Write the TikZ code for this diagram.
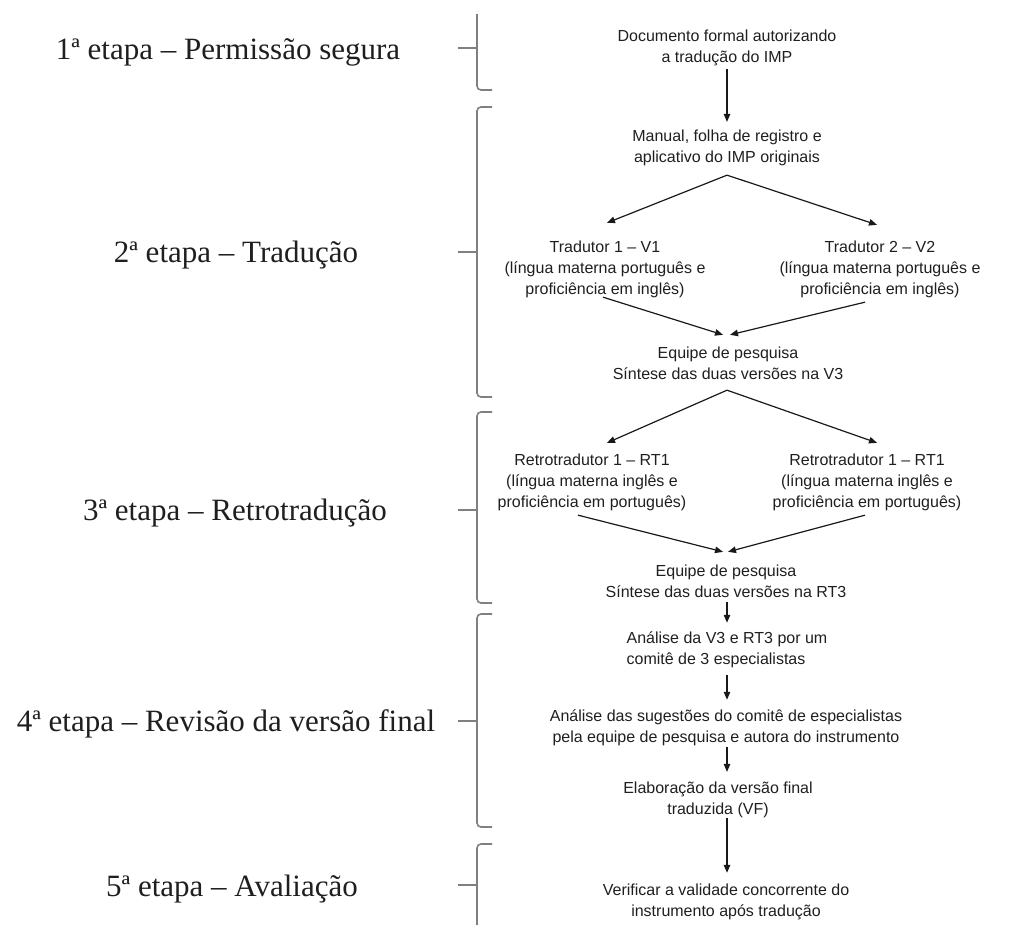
\documentclass[tikz,border=0pt]{standalone}
\usepackage{fontspec}
\setmainfont{Liberation Serif}
\setsansfont{Liberation Sans}
\usetikzlibrary{arrows.meta}
\begin{document}
\begin{tikzpicture}[x=1pt,y=-1pt,
  stage/.style={font=\fontsize{31}{36}\selectfont, text=black!88, inner sep=0pt},
  box/.style={font=\sffamily\fontsize{16}{21}\selectfont, align=center, inner sep=3pt, text=black!88},
  arr/.style={-{Triangle[length=8pt,width=6.5pt]}, line width=1.2pt, black!90},
  brk/.style={draw=black!50, line width=1.6pt, rounded corners=4pt}]
\useasboundingbox (0,0) rectangle (1016,924);

% stage labels
\node[stage] (s1) at (228,52) {1ª etapa – Permissão segura};
\node[stage] (s2) at (236,255) {2ª etapa – Tradução};
\node[stage] (s3) at (235,513) {3ª etapa – Retrotradução};
\node[stage] (s4) at (226,724) {4ª etapa – Revisão da versão final};
\node[stage] (s5) at (232,889) {5ª etapa – Avaliação};

% brackets
\draw[brk] (477,14) -- (477,90) -- (492,90);
\draw[brk] (458,48) -- (477,48);
\draw[brk] (492,107) -- (477,107) -- (477,397) -- (492,397);
\draw[brk] (458,252) -- (477,252);
\draw[brk] (492,412) -- (477,412) -- (477,603) -- (492,603);
\draw[brk] (458,510) -- (477,510);
\draw[brk] (492,614) -- (477,614) -- (477,827) -- (492,827);
\draw[brk] (458,721) -- (477,721);
\draw[brk] (492,844) -- (477,844) -- (477,930);
\draw[brk] (458,885) -- (477,885);

% flow nodes
\node[box] (n1) at (727,48) {Documento formal autorizando\\a tradução do IMP};
\node[box] (n2) at (727,148) {Manual, folha de registro e\\aplicativo do IMP originais};
\node[box] (t1) at (605,269) {Tradutor 1 – V1\\(língua materna português e\\proficiência em inglês)};
\node[box] (t2) at (880,269) {Tradutor 2 – V2\\(língua materna português e\\proficiência em inglês)};
\node[box] (e1) at (728,363) {Equipe de pesquisa\\Síntese das duas versões na V3};
\node[box] (r1) at (592,482) {Retrotradutor 1 – RT1\\(língua materna inglês e\\proficiência em português)};
\node[box] (r2) at (867,482) {Retrotradutor 1 – RT1\\(língua materna inglês e\\proficiência em português)};
\node[box] (e2) at (726,581) {Equipe de pesquisa\\Síntese das duas versões na RT3};
\node[box, align=left] (a1) at (727,649.5) {Análise da V3 e RT3 por um\\comitê de 3 especialistas};
\node[box] (a2) at (726,728) {Análise das sugestões do comitê de especialistas\\pela equipe de pesquisa e autora do instrumento};
\node[box] (a3) at (718,800) {Elaboração da versão final\\traduzida (VF)};
\node[box] (a4) at (726,901.5) {Verificar a validade concorrente do\\instrumento após tradução};

% connectors
\draw[arr] (n1.south) -- ([yshift=5pt]n2.north);
\draw[arr] ([yshift=-6pt]n2.south) -- ([xshift=2pt,yshift=14.5pt]t1.north);
\draw[arr] ([yshift=-6pt]n2.south) -- ([xshift=-3pt,yshift=12.5pt]t2.north);
\draw[arr] ([xshift=-2pt,yshift=3.5pt]t1.south) -- ([xshift=-5pt,yshift=8.6pt]e1.north);
\draw[arr] ([xshift=-15pt,yshift=-1.5pt]t2.south) -- ([xshift=2pt,yshift=8.6pt]e1.north);
\draw[arr] ([xshift=-1pt,yshift=-7.6pt]e1.south) -- ([xshift=15pt,yshift=7.5pt]r1.north);
\draw[arr] ([xshift=-1pt,yshift=-7.6pt]e1.south) -- ([xshift=10pt,yshift=7.5pt]r2.north);
\draw[arr] ([xshift=-14pt,yshift=-1.5pt]r1.south) -- ([xshift=-3pt,yshift=9.6pt]e2.north);
\draw[arr] ([xshift=-2pt,yshift=-1.5pt]r2.south) -- ([xshift=2pt,yshift=9.6pt]e2.north);
\draw[arr] ([xshift=1pt,yshift=-1.6pt]e2.south) -- ([yshift=5.5pt]a1.north);
\draw[arr] ([yshift=-4.5pt]a1.south) -- ([xshift=1pt,yshift=7pt]a2.north);
\draw[arr] ([xshift=1pt,yshift=2pt]a2.south) -- ([xshift=9pt,yshift=7pt]a3.north);
\draw[arr] ([xshift=9pt,yshift=3pt]a3.south) -- ([xshift=1pt,yshift=7.5pt]a4.north);
\end{tikzpicture}
\end{document}
